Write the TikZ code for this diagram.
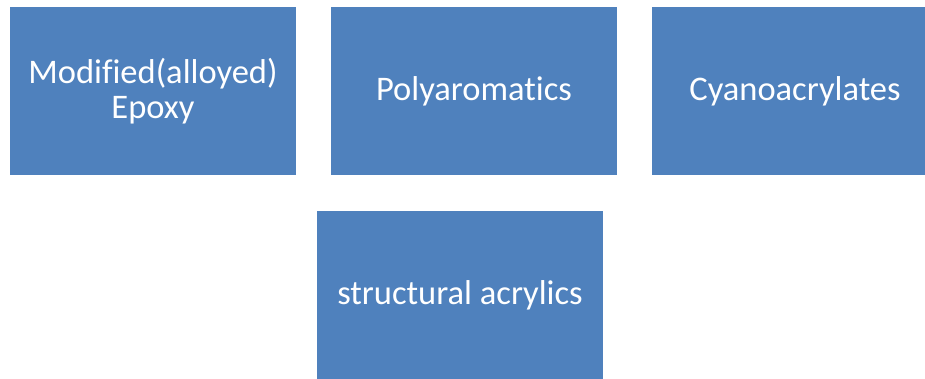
\documentclass[tikz,border=0pt]{standalone}
\usepackage{fontspec}
\setmainfont[Ligatures=NoCommon]{Carlito}
\definecolor{boxblue}{HTML}{4F81BD}
\begin{document}
\begin{tikzpicture}[x=1pt,y=-1pt,
  blockbox/.style={fill=boxblue, draw=none, minimum width=286pt, minimum height=168pt,
    inner sep=0pt, text=white, align=center, font=\fontsize{34.5pt}{35.5pt}\selectfont}]
\useasboundingbox (0,0) rectangle (925,379);
\clip (0,0) rectangle (925,379);
\node[blockbox] (epoxy) at (153,91) {\raisebox{-1.5pt}{\parbox{280pt}{\centering Modified(alloyed)\\Epoxy}}};
\node[blockbox] (poly) at (474,91) {\raisebox{-1.5pt}{Polyaromatics}};
\node[blockbox] (cyano) at (795,91) {\raisebox{-1.5pt}{Cyanoacrylates}};
\node[blockbox] (acryl) at (460,295) {\raisebox{-1.5pt}{structural acrylics}};
\end{tikzpicture}
\end{document}
